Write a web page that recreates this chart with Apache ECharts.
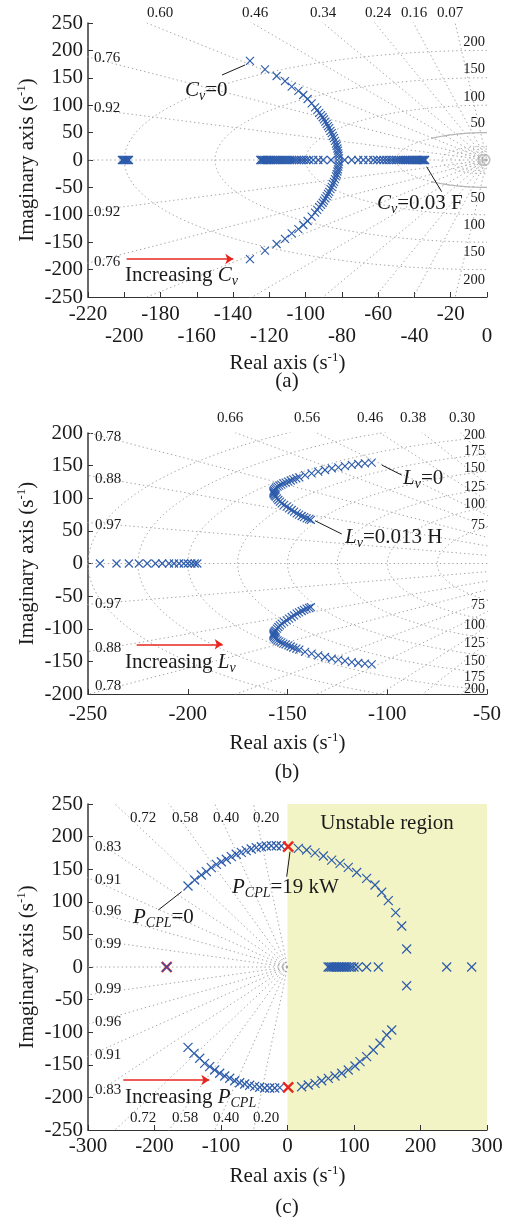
<!DOCTYPE html>
<html>
<head>
<meta charset="utf-8">
<script src="https://cdn.jsdelivr.net/npm/echarts@6/dist/echarts.min.js"></script>
<style>
  html, body { margin: 0; padding: 0; background: #fff; }
  #chart { width: 510px; height: 1217px; }
</style>
</head>
<body>
<div id="chart"></div>
<script>
const FONT = '"Liberation Serif", "Times New Roman", serif';
const INK = '#1a1a1a';
const BLUE = '#2d5cab';
const RED = '#e8261f';
const GRIDC = '#a6a6a6';

// ---------------- panel (a): sweep of Cv ----------------
const aZeta = [0.07, 0.16, 0.24, 0.34, 0.46, 0.60, 0.76, 0.92];
const aWn = [50, 100, 150, 200];
const aWnSmall = [5, 10, 15, 20, 25];
const aTopLabels = ['0.60', '0.46', '0.34', '0.24', '0.16', '0.07'];
const aLeftLabels = ['0.76', '0.92', '0.92', '0.76'];
const aRightLabels = ['200', '150', '100', '50', '50', '100', '150', '200'];
// upper half of the complex pair (Cv = 0 at the top)
const aArc = [
  [-130.7, 180.7], [-122.4, 165.5], [-116, 153.3], [-111.4, 144], [-107.7, 134], [-104, 126],
  [-101.3, 118.6], [-98.9, 111.3], [-96.7, 103.5], [-94.8, 96], [-93.6, 91], [-92.5, 86],
  [-91.5, 82], [-90.6, 78], [-89.9, 74], [-89.1, 70], [-88.4, 66], [-87.7, 62], [-87, 58],
  [-86.3, 53], [-85.6, 49], [-85, 44], [-84.4, 40], [-83.8, 35], [-83.3, 30], [-82.9, 26],
  [-82.5, 21], [-82.2, 17], [-82, 12], [-81.8, 8], [-81.6, 3]
];
const aRealLeft = [-86, -90.3, -93, -95.8, -98, -99.6, -101, -102.4, -103.7, -105, -106.3, -107.5,
  -108.7, -109.9, -111, -112.1, -113.2, -114.2, -115.2, -116.2, -117.1, -118, -118.9, -119.7,
  -120.5, -121.3, -122, -122.7, -123.3, -123.9, -124.5, -125];
const aRealRight = [-78.5, -74.6, -71, -68.2, -65.4, -62.7, -60.6, -58.8, -57.1, -55.5, -54, -52.6,
  -51.2, -49.9, -48.7, -47.5, -46.4, -45.3, -44.3, -43.3, -42.4, -41.5, -40.7, -39.9, -39.2,
  -38.5, -37.8, -37.2, -36.6, -36, -35.5, -35, -34.5, -34.1];
const aFar = [-201.3, -200.8, -200.3, -199.8, -199.3, -198.8, -198.3, -197.8, -197.4];

// ---------------- panel (b): sweep of Lv ----------------
const bZeta = [0.30, 0.38, 0.46, 0.56, 0.66, 0.78, 0.88, 0.97];
const bWn = [75, 100, 125, 150, 175, 200, 225, 250];
const bTopLabels = ['0.66', '0.56', '0.46', '0.38', '0.30'];
const bLeftLabels = ['0.78', '0.88', '0.97', '0.97', '0.88', '0.78'];
const bRightLabels = ['200', '175', '150', '125', '100', '75', '75', '100', '125', '150', '175', '200'];
const bUpper = [
  [-107.8, 154.5], [-111.2, 153.5], [-114.5, 152.5], [-117.8, 151], [-121.2, 149.4], [-124.5, 147.4],
  [-127.8, 145.9], [-131.2, 143.3], [-134.6, 140.7], [-137.9, 138.2], [-141.2, 135.6], [-144.1, 132.1],
  [-145.6, 130.5], [-147.1, 129], [-148.4, 127.2], [-149.6, 125.4], [-150.9, 124.1], [-152.1, 122.9],
  [-153.1, 121], [-154.1, 119.2], [-155, 117.7], [-155.8, 116.2], [-156.3, 114.4], [-156.8, 112.6],
  [-157, 110.8], [-157.1, 109.1], [-157, 107.5], [-156.8, 106], [-156.4, 104.2], [-155.9, 102.4],
  [-155.3, 99.8], [-154.6, 97.3], [-153.8, 94.8], [-152.9, 92.3], [-151.7, 89.7], [-150.4, 87.1],
  [-149.2, 84.5], [-147.9, 82], [-146.7, 79.5], [-145.4, 76.9], [-144.2, 74.8], [-142.9, 72.8],
  [-141.7, 71], [-140.4, 69.3], [-139.2, 68], [-138.3, 66.8]
];
const bReal = [-244, -235.7, -229.5, -224.5, -220.3, -216.2, -212.8, -209.4, -206.9, -204.4,
  -202, -200, -198.2, -196.5, -195.2];

// ---------------- panel (c): sweep of PCPL ----------------
const cZeta = [0.20, 0.40, 0.58, 0.72, 0.83, 0.91, 0.96, 0.99];
const cTopLabels = ['0.72', '0.58', '0.40', '0.20'];
const cLeftLabels = ['0.83', '0.91', '0.96', '0.99', '0.99', '0.96', '0.91', '0.83'];
const cUpper = [
  [-149.6, 124.2], [-139.6, 133.4], [-129.6, 141.1], [-122, 146.2], [-114.6, 152.3], [-107, 157.5],
  [-99.5, 161.5], [-92, 165.2], [-84.5, 169.2], [-77, 172.9], [-69.5, 175.9], [-62, 178.4],
  [-54.5, 181], [-47, 183], [-39.4, 184.5], [-31.9, 185.6], [-24.4, 186], [-16.8, 186], [-9.3, 185.6],
  [16.3, 182], [28.8, 179.4], [41.4, 175], [53.9, 170.2], [66.4, 164], [79, 159], [91.4, 152.9],
  [104, 145], [119, 136], [131.6, 125.8], [141.6, 114.6], [151.6, 101.7], [162.7, 83.3],
  [171.7, 62.9], [179.2, 27.6]
];
const cLower = [
  [-149.6, -123.2], [-140.6, -132.4], [-132, -140], [-124.6, -147.7], [-117, -152.9], [-109.5, -158],
  [-102, -163], [-94.4, -167.2], [-86.9, -170.7], [-79.4, -174.4], [-71.9, -177.5], [-64.4, -179.4],
  [-56.8, -181.4], [-49.3, -183], [-41.8, -184.5], [-34.3, -185.6], [-26.8, -185.6], [-19.2, -185.6],
  [-11.7, -185], [21.3, -183.6], [31.3, -181], [41.4, -178.5], [51.4, -174.4], [61.4, -170.8],
  [71.4, -167.2], [81.5, -163], [91.4, -158], [101.5, -151.8], [109, -145.2], [119, -137.5],
  [129, -127.3], [139.1, -117], [149.2, -104.3], [156.7, -96.6], [179.2, -28.7]
];
const cReal = [61, 63.5, 66, 68.5, 71, 73.5, 76, 78.5, 81, 83.5, 86, 89, 92.5, 96, 100, 106,
  119, 136.6, 239.4, 277];
const cCritical = [[1, 184.5], [1, -184.5]];
const cOpenLoop = [[-181.7, 0]];

// ---------------- layout ----------------
const boxes = [
  { left: 88, top: 23, width: 399, height: 274 },
  { left: 88, top: 433, width: 399, height: 261 },
  { left: 88, top: 804, width: 399, height: 326 }
];
const labelPos = {
  aTop: { y: 13, x: [160, 255, 323, 378, 414, 450] },
  aLeft: { x: 94, y: [58, 108, 212, 262] },
  aRight: { x: 485, y: [42, 69, 97, 123, 198, 225, 252, 280] },
  bTop: { y: 418, x: [230, 307, 370, 413, 462] },
  bLeft: { x: 95, y: [437, 479, 525, 604, 648, 686] },
  bRight: { x: 485, y: [435, 451, 468, 487, 504, 525, 605, 625, 643, 661, 677, 689] },
  cTop: { y: 818, x: [143, 185, 226, 266] },
  cBottom: { y: 1118, x: [143, 185, 226, 266] },
  cLeft: { x: 95, y: [847, 880, 911, 944, 989, 1022, 1055, 1090] }
};
// leader lines and arrows, in data units of each panel
const leaders = [
  [[[-146.1, 155.1], [-133.4, 173.4]], [[-33.3, -12.2], [-25, -57.8]]],
  [[[-102.8, 151], [-92.8, 135.6]], [[-136.2, 65.6], [-122.8, 45.2]]],
  [[[-194.3, 87.4], [-159.1, 115.5]], [[3.8, 176.8], [-1.2, 138.5]]]
];
const arrows = [
  [[-198.7, -180.7], [-139.9, -180.7]],
  [[-225.6, -123.8], [-182.5, -123.8]],
  [[-246.9, -173.3], [-117.6, -173.3]]
];

// ---------------- helpers ----------------
function sgrid(zetas, wns, realFrom) {
  const R = 5000, out = [];
  zetas.forEach(z => {
    const s = Math.sqrt(1 - z * z);
    out.push([[0, 0], [-R * z, R * s]]);
    out.push([[0, 0], [-R * z, -R * s]]);
  });
  out.push([[realFrom, 0], [0, 0]]);
  wns.forEach(w => {
    const pts = [];
    for (let k = 0; k <= 120; k++) {
      const t = Math.PI / 2 + Math.PI * k / 120;
      pts.push([w * Math.cos(t), w * Math.sin(t)]);
    }
    out.push(pts);
  });
  return out.map(c => ({ coords: c }));
}

function arcPart(w, degFrom, degTo) {
  const pts = [];
  for (let d = degFrom; d <= degTo; d += 2) {
    const t = d * Math.PI / 180;
    pts.push([w * Math.cos(t), w * Math.sin(t)]);
  }
  return { coords: pts };
}

function gridLines(idx, data, style) {
  return {
    type: 'lines', coordinateSystem: 'cartesian2d', xAxisIndex: idx, yAxisIndex: idx,
    polyline: true, clip: true, silent: true, z: 1,
    lineStyle: style || { color: GRIDC, width: 1, type: [1.4, 2.8], opacity: 1 },
    data
  };
}

function crosses(idx, pts, color, size, lw, z) {
  return {
    type: 'custom', xAxisIndex: idx, yAxisIndex: idx, clip: true, silent: true, z: z || 5,
    encode: { x: 0, y: 1 },
    data: pts,
    renderItem(params, api) {
      const p = api.coord([api.value(0), api.value(1)]);
      const h = size / 2;
      return {
        type: 'group',
        children: [
          { type: 'line', shape: { x1: p[0] - h, y1: p[1] - h, x2: p[0] + h, y2: p[1] + h }, style: { stroke: color, lineWidth: lw } },
          { type: 'line', shape: { x1: p[0] - h, y1: p[1] + h, x2: p[0] + h, y2: p[1] - h }, style: { stroke: color, lineWidth: lw } }
        ]
      };
    }
  };
}

function annoLines(idx, k) {
  return [
    {
      type: 'lines', coordinateSystem: 'cartesian2d', xAxisIndex: idx, yAxisIndex: idx,
      polyline: false, silent: true, z: 6,
      lineStyle: { color: INK, width: 1, opacity: 1 },
      data: leaders[k].map(c => ({ coords: c }))
    },
    {
      type: 'lines', coordinateSystem: 'cartesian2d', xAxisIndex: idx, yAxisIndex: idx,
      polyline: false, silent: true, z: 6,
      symbol: ['none', 'arrow'], symbolSize: 8,
      lineStyle: { color: RED, width: 1.5, opacity: 1 },
      data: [{ coords: arrows[k] }]
    }
  ];
}

const axisRich = {
  n: { fontFamily: FONT, fontSize: 21, color: INK, lineHeight: 24 },
  sup: { fontFamily: FONT, fontSize: 13, color: INK, lineHeight: 24, verticalAlign: 'top' }
};

// row: 'all' | 'even' | 'odd' -> which tick values get a label
function xAxisCfg(idx, min, max, step, margin, nameGap, row) {
  const pick = row || 'all';
  const bare = pick === 'odd';
  return {
    type: 'value', gridIndex: idx, position: 'bottom', offset: 0, min, max, interval: step,
    name: bare ? '' : '{n|Real axis (s}{sup|-1}{n|)}', nameLocation: 'middle', nameGap, nameMoveOverlap: false,
    nameTextStyle: { rich: axisRich },
    axisLine: { show: !bare, onZero: false, lineStyle: { color: '#333', width: 1.2 } },
    axisTick: { show: !bare, inside: true, length: 5, lineStyle: { color: '#333' } },
    splitLine: { show: false },
    axisLabel: {
      margin, color: INK, fontFamily: FONT, fontSize: 21,
      showMinLabel: true, showMaxLabel: true, hideOverlap: false,
      formatter: (v, i) => {
        if (pick === 'even') return i % 2 ? '' : '' + v;
        if (pick === 'odd') return i % 2 ? '' + v : '';
        return '' + v;
      }
    }
  };
}

function yAxisCfg(idx, min, max, step) {
  return {
    type: 'value', gridIndex: idx, position: 'left', min, max, interval: step,
    name: '{n|Imaginary axis (s}{sup|-1}{n|)}', nameLocation: 'middle', nameRotate: 90, nameGap: 49,
    nameMoveOverlap: false,
    nameTextStyle: { rich: axisRich },
    axisLine: { onZero: false, lineStyle: { color: '#444', width: 1.6 } },
    axisTick: { inside: true, length: 5, lineStyle: { color: '#333' } },
    splitLine: { show: false },
    axisLabel: { margin: 5, color: INK, fontFamily: FONT, fontSize: 21, showMinLabel: true, showMaxLabel: true }
  };
}

const annoRich = {
  n: { fontFamily: FONT, fontSize: 21, fill: INK, lineHeight: 26 },
  i: { fontFamily: FONT, fontSize: 21, fontStyle: 'italic', fill: INK, lineHeight: 26 },
  s: { fontFamily: FONT, fontSize: 14, fontStyle: 'italic', fill: INK, lineHeight: 26, verticalAlign: 'bottom' }
};

function txt(x, y, text, size, align, rich) {
  return {
    type: 'text', x, y, z: 100, silent: true,
    style: {
      text, fill: INK, fontFamily: FONT, fontSize: size,
      align: align || 'center', verticalAlign: 'middle', rich
    }
  };
}

const graphic = [];
function labelRow(texts, pos, size, align) {
  texts.forEach((t, i) => {
    const x = Array.isArray(pos.x) ? pos.x[i] : pos.x;
    const y = Array.isArray(pos.y) ? pos.y[i] : pos.y;
    graphic.push(txt(x, y, t, size, align));
  });
}
labelRow(aTopLabels, labelPos.aTop, 15, 'center');
labelRow(aLeftLabels, labelPos.aLeft, 15, 'left');
labelRow(aRightLabels, labelPos.aRight, 14.5, 'right');
labelRow(bTopLabels, labelPos.bTop, 15, 'center');
labelRow(bLeftLabels, labelPos.bLeft, 15, 'left');
labelRow(bRightLabels, labelPos.bRight, 14, 'right');
labelRow(cTopLabels, labelPos.cTop, 15, 'center');
labelRow(cTopLabels, labelPos.cBottom, 15, 'center');
labelRow(cLeftLabels, labelPos.cLeft, 15, 'left');

graphic.push(
  txt(185, 90, '{i|C}{s|v}{n|=0}', 21, 'left', annoRich),
  txt(377, 203, '{i|C}{s|v}{n|=0.03 F}', 21, 'left', annoRich),
  txt(125, 275, '{n|Increasing }{i|C}{s|v}', 21, 'left', annoRich),
  txt(403, 478, '{i|L}{s|v}{n|=0}', 21, 'left', annoRich),
  txt(345, 537, '{i|L}{s|v}{n|=0.013 H}', 21, 'left', annoRich),
  txt(125, 662, '{n|Increasing }{i|L}{s|v}', 21, 'left', annoRich),
  txt(133, 917, '{i|P}{s|CPL}{n|=0}', 21, 'left', annoRich),
  txt(232, 887, '{i|P}{s|CPL}{n|=19 kW}', 21, 'left', annoRich),
  txt(125, 1097, '{n|Increasing }{i|P}{s|CPL}', 21, 'left', annoRich),
  txt(387, 823, 'Unstable region', 21, 'center'),
  txt(287, 381, '(a)', 21, 'center'),
  txt(287, 772, '(b)', 21, 'center'),
  txt(287, 1207, '(c)', 21, 'center')
);

const real = xs => xs.map(x => [x, 0]);
const conj = pts => pts.map(([x, y]) => [x, -y]);

const aPoles = [].concat(real(aFar), aArc, conj(aArc), real(aRealLeft), real(aRealRight));
const bPoles = [].concat(real(bReal), bUpper, conj(bUpper));
const cPoles = [].concat(cUpper, cLower, real(cReal));

const option = {
  animation: false,
  backgroundColor: '#fff',
  grid: boxes.map(b => Object.assign({ containLabel: false, outerBoundsMode: 'none' }, b)),
  xAxis: [
    xAxisCfg(0, -220, 0, 20, 7, 54, 'even'),
    xAxisCfg(1, -250, -50, 50, 10, 37),
    xAxisCfg(2, -300, 300, 100, 6, 34),
    xAxisCfg(0, -220, 0, 20, 29, 54, 'odd')
  ],
  yAxis: [
    yAxisCfg(0, -250, 250, 50),
    yAxisCfg(1, -200, 200, 50),
    yAxisCfg(2, -250, 250, 50)
  ],
  graphic,
  series: [
    // (c) unstable half-plane
    {
      type: 'custom', xAxisIndex: 2, yAxisIndex: 2, silent: true, z: 0, clip: true,
      encode: { x: [0, 1], y: [2, 3] },
      data: [[0, 300, 250, -250]],
      renderItem(params, api) {
        const p0 = api.coord([api.value(0), api.value(2)]);
        const p1 = api.coord([api.value(1), api.value(3)]);
        return { type: 'rect', shape: { x: p0[0], y: p0[1], width: p1[0] - p0[0], height: p1[1] - p0[1] }, style: { fill: '#f3f4c6' } };
      }
    },
    gridLines(0, sgrid(aZeta, aWn.concat(aWnSmall), -400)),
    gridLines(0, [arcPart(50, 90, 128), arcPart(50, 232, 270)], { color: '#b5b5b5', width: 1.2, type: 'solid', opacity: 1 }),
    {
      type: 'scatter', xAxisIndex: 0, yAxisIndex: 0, silent: true, z: 3,
      symbol: 'circle', symbolSize: 11, clip: false,
      itemStyle: { color: 'rgba(0,0,0,0)', borderColor: '#b0b0b0', borderWidth: 1.5 },
      data: [[-1.5, 0]]
    },
    {
      type: 'scatter', xAxisIndex: 0, yAxisIndex: 0, silent: true, z: 3,
      symbol: 'circle', symbolSize: 3, itemStyle: { color: '#b0b0b0' }, data: [[-1.5, 0]]
    },
    gridLines(1, sgrid(bZeta, bWn, -400)),
    gridLines(2, sgrid(cZeta, [], -300)),

    crosses(0, aPoles, BLUE, 8, 1.1),
    crosses(1, bPoles, BLUE, 8, 1.1),
    crosses(2, cPoles, BLUE, 9, 1.2),
    crosses(2, cOpenLoop, RED, 10, 2.2, 6),
    crosses(2, cOpenLoop, '#3b4aa8', 9, 1.2, 7),
    crosses(2, cCritical, RED, 10, 2.4, 7),

    ...annoLines(0, 0),
    ...annoLines(1, 1),
    ...annoLines(2, 2)
  ]
};

const chart = echarts.init(document.getElementById('chart'), null, { renderer: 'canvas' });
chart.setOption(option);
</script>
</body>
</html>
